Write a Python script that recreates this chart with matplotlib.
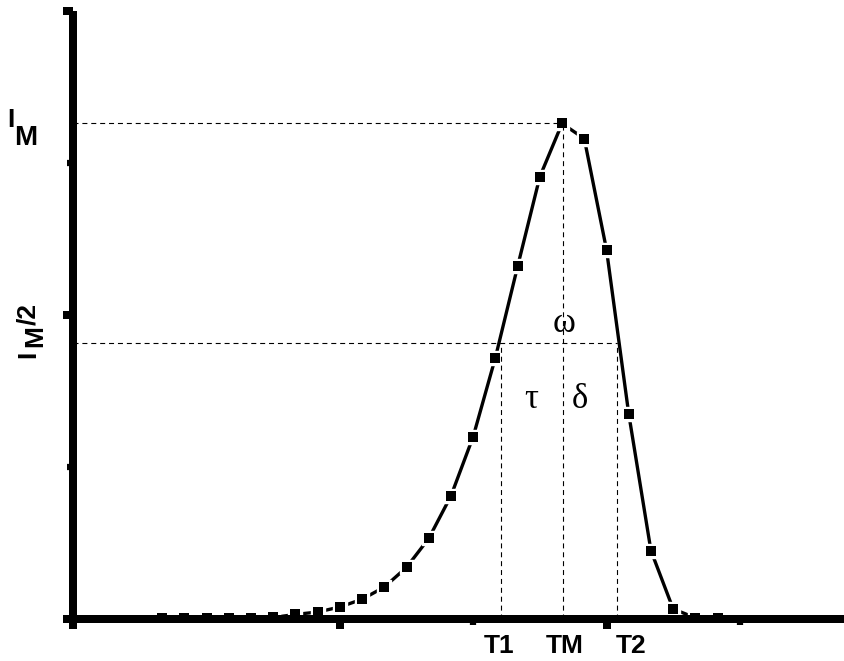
import matplotlib
matplotlib.use("Agg")
import matplotlib.pyplot as plt
import numpy as np

# ---- data ----
time_steps = [k / 6 for k in range(4, 30)]
intensity = [0.005, 0.005, 0.005, 0.005, 0.008, 0.01, 0.03, 0.046, 0.079,
             0.13, 0.21, 0.34, 0.53, 0.81, 1.20, 1.72, 2.32, 2.91,
             3.26, 3.16, 2.43, 1.35, 0.45, 0.066, 0.008, 0.005]

I_max = 3.26
I_half = 1.816
T1 = 3.21
TM = 3.675
T2 = 4.08
x_major = [0, 2, 4]
x_minor = [1, 3, 5]
y_major = [0, 2, 4]
y_minor = [1, 3]
t_labels = ["T1", "TM", "T2"]

W, H = 844, 661
fig = plt.figure(figsize=(W / 100, H / 100), dpi=100)
ax = fig.add_axes([73.3 / W, 42 / H, (W - 73.3) / W, (619 - 11) / H])
ax.set_xlim(0, (W - 73.3) / 133.3)
ax.set_ylim(0, 4)

# main curve
ax.plot(time_steps, intensity, color="black", lw=2.4, zorder=2, clip_on=False)
ax.plot(time_steps, intensity, ls="none", marker="s", ms=9.6, mfc="white",
        mec="white", zorder=3, clip_on=False)
ax.plot(time_steps, intensity, ls="none", marker="s", ms=7.9, mfc="black",
        mec="black", mew=0, zorder=4, clip_on=False)

# dashed guide lines
dash = dict(color="black", lw=0.8, ls=(0, (4.5, 3.5)), zorder=3.5)
ax.plot([0, TM], [I_max, I_max], **dash)
ax.plot([0, T2], [I_half, I_half], **dash)
ax.plot([T1, T1], [0, I_half], **dash)
ax.plot([TM, TM], [0, I_max], **dash)
ax.plot([T2, T2], [0, I_half], **dash)

# spines and ticks
for s in ["top", "right"]:
    ax.spines[s].set_visible(False)
for s in ["left", "bottom"]:
    ax.spines[s].set_linewidth(5.76)
    ax.spines[s].set_zorder(10)
    ax.spines[s].set_capstyle("butt")
ax.set_xticks(x_major)
ax.set_xticks(x_minor, minor=True)
ax.set_yticks(y_major)
ax.set_yticks(y_minor, minor=True)
ax.tick_params(which="major", direction="out", length=7.2, width=5.76,
               labelbottom=False, labelleft=False)
ax.tick_params(which="minor", direction="out", length=4.5, width=4.5)

def fx(px):
    return px / W

def fy(py):
    return 1 - py / H

bold = dict(family="Liberation Sans", weight="bold", color="black")

# T labels
for lab, px in zip(t_labels, [499, 565, 631]):
    fig.text(fx(px), fy(653), lab, ha="center", va="baseline", fontsize=19, **bold)

# I_M label
fig.text(fx(7), fy(127), "I", ha="left", va="baseline", fontsize=19, **bold)
fig.text(fx(14), fy(145), "M", ha="left", va="baseline", fontsize=20, **bold)

# I_M/2 label (rotated)
rot = dict(rotation=90, rotation_mode="anchor", ha="left", va="baseline",
           fontsize=19, **bold)
fig.text(fx(35), fy(358), "I", **rot)
fig.text(fx(42), fy(347), "M", **rot)
fig.text(fx(35), fy(325), "/2", **rot)

# greek labels
greek = dict(family="Liberation Serif", color="black", ha="center",
             va="baseline", fontsize=25)
fig.text(fx(564), fy(332), "\u03c9", **greek)
fig.text(fx(531), fy(408), "\u03c4", **greek)
fig.text(fx(580), fy(408), "\u03b4", **greek)

fig.savefig("out.png", dpi=100)
